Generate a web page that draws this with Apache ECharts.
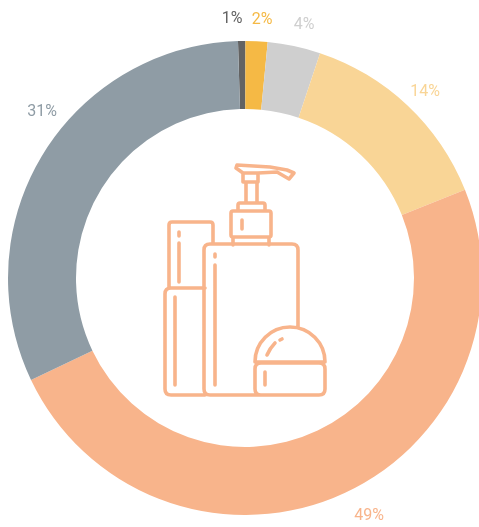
<!DOCTYPE html>
<html>
<head>
<meta charset="utf-8">
<style>
	html, body { margin: 0; padding: 0; background: #fff; }
	#chart { width: 479px; height: 527px; }
</style>
<script src="https://cdn.jsdelivr.net/npm/echarts@6/dist/echarts.min.js"></script>
</head>
<body>
<div id="chart"></div>
<script>
var sliceValues = [0.5, 1.5, 3.6, 13.8, 49, 31.6]
var sliceLabels = ['1%', '2%', '4%', '14%', '49%', '31%']
var sliceColors = ['#636363', '#f5b945', '#cfcfcf', '#f9d596', '#f8b48b', '#8f9ca5']

/* 标签位置 */
var labelPos = [[232, 19], [262, 20], [304, 25], [425, 92], [369, 516], [42, 112]]

/* 瓶子图标 */
var iconPath = [
	'M237 165 L270 167 L287 170 L294 173 L289 179 L277 172 L258 173 L243 173 L236 168 Z',
	'M243 173 L243 182 L258 182 L258 173',
	'M246 182 L246 203 M257 182 L257 203',
	'M238 211 L238 205 Q238 203 240 203 L263 203 Q265 203 265 205 L265 211',
	'M233 211 L269 211 Q271 211 271 213 L271 235 Q271 237 269 237 L233 237 Q231 237 231 235 L231 213 Q231 211 233 211 Z',
	'M233 237 L233 245 M269 237 L269 245',
	'M242 220 L242 229',
	'M298 327 L298 250 Q298 244 292 244 L210 244 Q204 244 204 250 L204 389 Q204 395 210 395 L296 395',
	'M215 254 L215 257 M215 265 L215 385',
	'M169 288 L169 225 Q169 222 172 222 L210 222 Q213 222 213 225 L213 244',
	'M179 232 L179 236 M179 243 L179 282',
	'M205 288 L171 288 Q165 288 165 294 L165 389 Q165 395 171 395 L205 395',
	'M175 297 L175 385',
	'M255 362 A35 35 0 0 1 325 362 Z',
	'M261 363 L319 363 Q325 363 325 369 L325 389 Q325 395 319 395 L261 395 Q255 395 255 389 L255 369 Q255 363 261 363 Z',
	'M265 372 L265 385',
	'M267 355 Q270 348 275 343 M280 340 L282 339'
].join(' ')

window.onload = function() {
	var chart = echarts.init(document.getElementById('chart'))
	var option = {
		animation: false,
		series: [{
			type: 'pie',
			center: [245, 278],
			radius: [169, 237],
			startAngle: 91.7,
			silent: true,
			avoidLabelOverlap: false,
			data: sliceValues.map(function(v, i) {
				return {
					value: v,
					itemStyle: { color: sliceColors[i] },
					label: {
						formatter: sliceLabels[i],
						color: sliceColors[i]
					}
				}
			}),
			label: {
				show: true,
				position: 'outside',
				overflow: 'none',
				fontFamily: 'Roboto',
				fontWeight: 400,
				fontSize: 16
			},
			labelLine: { show: false },
			labelLayout: function(params) {
				return {
					x: labelPos[params.dataIndex][0],
					y: labelPos[params.dataIndex][1],
					align: 'center',
					verticalAlign: 'middle',
					hideOverlap: false
				}
			}
		}, {
			type: 'custom',
			coordinateSystem: 'none',
			silent: true,
			data: [0],
			renderItem: function() {
				return {
					type: 'path',
					shape: { pathData: iconPath },
					style: {
						fill: 'none',
						stroke: '#f8b48b',
						lineWidth: 3.6,
						lineJoin: 'round',
						lineCap: 'round'
					}
				}
			}
		}]
	}
	chart.setOption(option)
}
</script>
</body>
</html>
